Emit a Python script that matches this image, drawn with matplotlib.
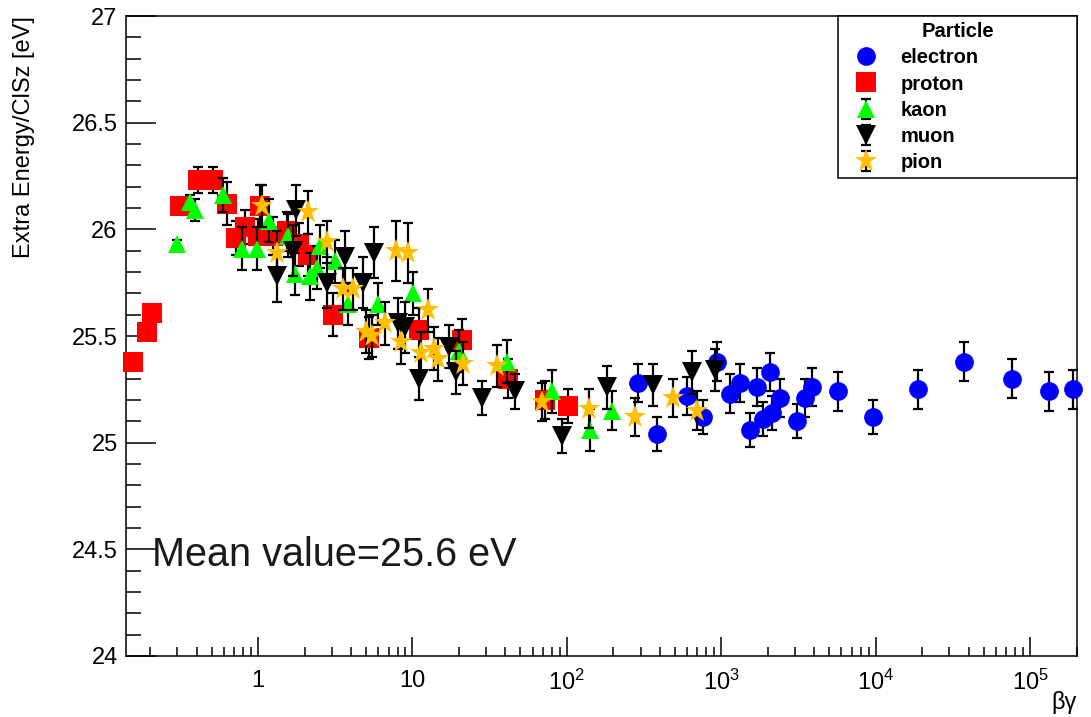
import math
import matplotlib
matplotlib.use("Agg")
import matplotlib.pyplot as plt
from matplotlib.ticker import FixedLocator, FuncFormatter, LogLocator, MultipleLocator
from matplotlib.lines import Line2D

plt.rcParams["font.family"] = ["Liberation Sans", "DejaVu Sans"]
plt.rcParams["mathtext.fontset"] = "custom"
plt.rcParams["mathtext.rm"] = "Liberation Sans"
plt.rcParams["mathtext.it"] = "Liberation Sans:italic"

# ---- data: beta*gamma, extra energy per cluster size [eV], uncertainty ----
electron_bg = [289, 384, 600, 762, 939, 1140, 1324, 1537, 1706, 1866, 2070, 2133,
               2404, 3097, 3490, 3873, 5702, 9616, 18830, 37400, 76400, 132800, 189800]
electron_E = [25.28, 25.04, 25.22, 25.12, 25.38, 25.23, 25.28, 25.06, 25.26, 25.11, 25.33, 25.14,
              25.21, 25.10, 25.21, 25.26, 25.24, 25.12, 25.25, 25.38, 25.30, 25.24, 25.25]
electron_err = [0.09, 0.08, 0.09, 0.08, 0.09, 0.09, 0.09, 0.08, 0.09, 0.08, 0.09, 0.08,
                0.09, 0.08, 0.09, 0.09, 0.09, 0.08, 0.09, 0.09, 0.09, 0.09, 0.09]

proton_bg = [0.154, 0.19, 0.207, 0.31, 0.41, 0.51, 0.63, 0.72, 0.82, 1.03, 1.0, 1.25,
             1.55, 1.85, 2.1, 3.05, 5.2, 11.0, 21.0, 41.6, 72.0, 102.0]
proton_E = [25.38, 25.52, 25.61, 26.11, 26.23, 26.23, 26.12, 25.96, 26.01, 26.11, 25.97, 25.97,
            25.99, 25.93, 25.88, 25.60, 25.49, 25.53, 25.48, 25.30, 25.20, 25.17]
proton_err = [0.02, 0.02, 0.02, 0.03, 0.06, 0.06, 0.10, 0.08, 0.08, 0.10, 0.08, 0.09,
              0.09, 0.10, 0.10, 0.10, 0.10, 0.10, 0.10, 0.09, 0.09, 0.08]

kaon_bg = [0.30, 0.36, 0.39, 0.59, 0.79, 0.99, 1.18, 1.57, 1.74, 2.18, 2.42, 2.53,
           3.17, 3.8, 5.95, 10.05, 20.0, 41.0, 80.0, 141.0, 196.0]
kaon_E = [25.93, 26.13, 26.09, 26.16, 25.91, 25.91, 26.04, 25.97, 25.79, 25.78, 25.82, 25.92,
          25.85, 25.65, 25.65, 25.70, 25.43, 25.38, 25.24, 25.06, 25.15]
kaon_err = [0.02, 0.03, 0.05, 0.08, 0.10, 0.10, 0.10, 0.10, 0.10, 0.11, 0.10, 0.10,
            0.10, 0.10, 0.10, 0.10, 0.10, 0.10, 0.10, 0.10, 0.09]

muon_bg = [1.33, 1.77, 1.69, 2.81, 3.68, 4.75, 5.6, 8.0, 9.0, 11.0, 17.2, 19.1,
           28.2, 46.0, 93.0, 182.0, 362.0, 647.0, 912.0]
muon_E = [25.78, 26.09, 25.90, 25.75, 25.87, 25.75, 25.89, 25.56, 25.54, 25.30, 25.45, 25.33,
          25.21, 25.24, 25.03, 25.26, 25.27, 25.33, 25.34]
muon_err = [0.12, 0.12, 0.12, 0.12, 0.12, 0.12, 0.12, 0.12, 0.12, 0.10, 0.10, 0.10,
            0.08, 0.08, 0.08, 0.10, 0.10, 0.10, 0.10]

pion_bg = [1.06, 1.33, 2.11, 2.81, 3.57, 4.09, 4.97, 5.5, 6.6, 7.8, 9.3, 8.4,
           11.3, 12.6, 13.8, 14.6, 21.2, 35.3, 69.0, 139.0, 277.0, 487.0, 697.0]
pion_E = [26.11, 25.89, 26.08, 25.94, 25.72, 25.72, 25.52, 25.50, 25.56, 25.90, 25.89, 25.47,
          25.42, 25.62, 25.44, 25.39, 25.37, 25.36, 25.19, 25.16, 25.12, 25.21, 25.15]
pion_err = [0.10, 0.10, 0.10, 0.10, 0.10, 0.10, 0.10, 0.10, 0.10, 0.14, 0.14, 0.10,
            0.10, 0.10, 0.10, 0.10, 0.10, 0.10, 0.09, 0.09, 0.09, 0.09, 0.09]

mean_value = 25.6

# ---- figure ----
fig = plt.figure(figsize=(10.91, 7.17), dpi=100)
ax = fig.add_axes([126 / 1091, 1 - 656 / 717, 951 / 1091, 640 / 717])

series = [
    ("electron", electron_bg, electron_E, electron_err, "o", "#0000FF", 13.5),
    ("proton", proton_bg, proton_E, proton_err, "s", "#FF0000", 14.0),
    ("kaon", kaon_bg, kaon_E, kaon_err, "^", "#00FF00", 13.0),
    ("muon", muon_bg, muon_E, muon_err, "v", "#000000", 14.0),
    ("pion", pion_bg, pion_E, pion_err, "*", "#FFBF00", 17.0),
]

handles = []
for i, (name, xs, ys, es, mk, col, ms) in enumerate(series):
    cont = ax.errorbar(xs, ys, yerr=es, fmt=mk, color=col, markersize=ms,
                       ecolor="black", elinewidth=1.6,
                       capsize=3.3, capthick=1.6, zorder=3 + i, label=name)
    cont.lines[0].set_markeredgewidth(0)
    for art in [cont.lines[0], *cont.lines[1], *cont.lines[2]]:
        art.set_clip_on(False)
    if name in ("electron", "proton"):
        handles.append(Line2D([], [], linestyle="none", marker=mk, color=col,
                              markersize=ms, markeredgewidth=0))
    else:
        handles.append(cont)

ax.set_xscale("log")
ax.set_xlim(0.1396, 2.01e5)
ax.set_ylim(24, 27)

# ticks: inside, left and bottom only
ax.yaxis.set_major_locator(MultipleLocator(0.5))
ax.yaxis.set_minor_locator(MultipleLocator(0.1))
ax.yaxis.set_major_formatter(FuncFormatter(lambda v, p: f"{v:g}"))
ax.xaxis.set_major_locator(FixedLocator([1, 10, 1e2, 1e3, 1e4, 1e5]))
ax.xaxis.set_minor_locator(LogLocator(base=10, subs=range(2, 10), numticks=20))


def xfmt(v, pos):
    if v < 5:
        return "1"
    if v < 50:
        return "10"
    return r"$\mathregular{10^{%d}}$" % round(math.log10(v))


ax.xaxis.set_major_formatter(FuncFormatter(xfmt))
ax.xaxis.set_minor_formatter(FuncFormatter(lambda v, p: ""))
ax.tick_params(axis="both", which="both", direction="in", top=False, right=False,
               width=1.1, color="black", labelsize=17)
ax.tick_params(axis="y", which="major", length=21.6, pad=6)
ax.tick_params(axis="y", which="minor", length=10.8)
ax.tick_params(axis="x", which="major", length=13.7, pad=10)
ax.tick_params(axis="x", which="minor", length=6.8)

for sp in ax.spines.values():
    sp.set_linewidth(1.1)
    sp.set_color("black")

ax.set_ylabel("Extra Energy/ClSz [eV]", fontsize=17, loc="top")
ax.yaxis.set_label_coords(-0.0957, 1.0)
ax.set_xlabel("βγ", fontsize=17, loc="right")
ax.xaxis.set_label_coords(1.0, -0.055)

leg = ax.legend(handles=handles, labels=[s[0] for s in series], title="Particle",
                loc="upper left", bbox_to_anchor=((838 - 126) / 951, 0.0, 239 / 951, 1.0),
                mode="expand", borderaxespad=0, fancybox=False, framealpha=1,
                edgecolor="black", prop={"weight": "bold", "size": 14.5},
                title_fontproperties={"weight": "bold", "size": 14.5},
                borderpad=0.3, labelspacing=0.36, handlelength=2.2, handletextpad=0.6)
leg.get_frame().set_linewidth(1.1)
leg.set_zorder(20)

fig.text(152 / 1091, 1 - 566 / 717, f"Mean value={mean_value} eV", fontsize=28.5,
         color="#1a1a1a", va="baseline", ha="left")

fig.savefig("out.png", dpi=100, facecolor="white")
